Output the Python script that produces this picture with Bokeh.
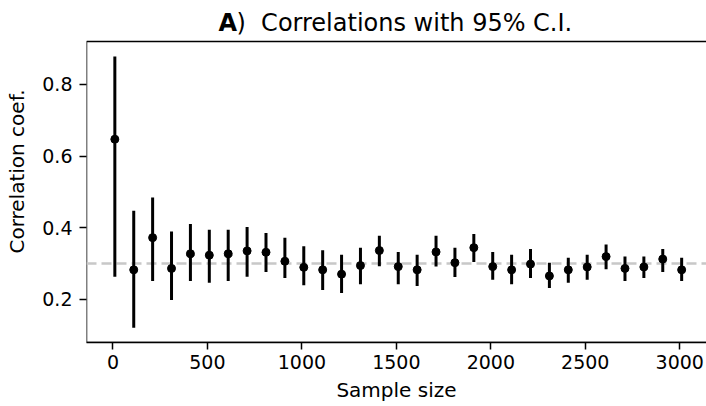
from bokeh.plotting import figure
from bokeh.models import ColumnDataSource, Range1d, Span, Label, BoxAnnotation, FixedTicker
from bokeh.embed import file_html
from bokeh.resources import INLINE

sample_size = [10, 110, 210, 310, 410, 510, 610, 710, 810, 910, 1010, 1110, 1210, 1310, 1410,
               1510, 1610, 1710, 1810, 1910, 2010, 2110, 2210, 2310, 2410, 2510, 2610, 2710,
               2810, 2910, 3010]
corr = [0.647, 0.282, 0.372, 0.286, 0.327, 0.323, 0.327, 0.335, 0.331, 0.306, 0.289, 0.282,
        0.270, 0.294, 0.336, 0.291, 0.282, 0.332, 0.302, 0.344, 0.291, 0.282, 0.298, 0.265,
        0.282, 0.290, 0.319, 0.286, 0.290, 0.312, 0.282]
upper = [0.878, 0.447, 0.484, 0.389, 0.410, 0.394, 0.394, 0.402, 0.385, 0.372, 0.348, 0.337,
         0.324, 0.344, 0.377, 0.332, 0.324, 0.377, 0.344, 0.382, 0.332, 0.324, 0.340, 0.302,
         0.316, 0.324, 0.353, 0.319, 0.319, 0.340, 0.316]
lower = [0.263, 0.120, 0.251, 0.198, 0.251, 0.246, 0.251, 0.263, 0.276, 0.259, 0.239, 0.226,
         0.217, 0.242, 0.292, 0.242, 0.237, 0.291, 0.262, 0.304, 0.254, 0.242, 0.259, 0.231,
         0.246, 0.254, 0.284, 0.251, 0.259, 0.276, 0.251]
true_corr = 0.3
x_ticks = [0, 500, 1000, 1500, 2000, 2500, 3000]
y_ticks = [0.2, 0.4, 0.6, 0.8]

# axes box limits (the box's right side lies beyond the window)
x_lo, x_hi = -140, 3160
y_lo, y_hi = 0.079, 0.92

W, H = 706, 406
LEFT, BOTTOM, BOX_TOP = 86, 64, 41
frame_h = H - BOTTOM
ppu = (frame_h - BOX_TOP) / (y_hi - y_lo)
y_view_hi = y_hi + BOX_TOP / ppu          # frame reaches the top, title sits inside it
x_view_hi = x_lo + (x_hi - x_lo) * (W - LEFT) / 623.5
title_y = y_hi + 19 / ppu                  # title placed above the box

src = ColumnDataSource(dict(n=sample_size, r=corr, lo=lower, hi=upper))

FONT = "DejaVu Sans"
p = figure(width=W, height=H, output_backend="svg", toolbar_location=None,
           x_range=Range1d(x_lo, x_view_hi), y_range=Range1d(y_lo, y_view_hi),
           min_border_left=LEFT, min_border_right=0, min_border_top=0, min_border_bottom=BOTTOM,
           x_axis_label="Sample size", y_axis_label="Correlation coef.")
p.outline_line_color = None
p.grid.visible = False
p.background_fill_color = "white"
p.border_fill_color = "white"

for ax in (p.xaxis[0], p.yaxis[0]):
    ax.axis_line_color = "black"
    ax.axis_line_width = 1.5
    ax.major_tick_line_color = "black"
    ax.major_tick_line_width = 1.5
    ax.major_tick_out = 7
    ax.major_tick_in = 0
    ax.minor_tick_line_color = None
    ax.major_label_text_font = FONT
    ax.major_label_text_font_size = "19px"
    ax.major_label_text_color = "black"
    ax.axis_label_text_font = FONT
    ax.axis_label_text_font_size = "20px"
    ax.axis_label_text_font_style = "normal"
    ax.axis_label_text_color = "black"

p.yaxis[0].axis_line_color = None
p.xaxis[0].ticker = FixedTicker(ticks=x_ticks)
p.yaxis[0].ticker = FixedTicker(ticks=y_ticks)
p.xaxis[0].major_label_standoff = 5
p.xaxis[0].axis_label_standoff = 6
p.yaxis[0].major_label_standoff = 7
p.yaxis[0].axis_label_standoff = 10

# axes box: left and top spines (bottom is the x axis line)
p.add_layout(BoxAnnotation(left=x_lo, right=x_hi, bottom=y_lo, top=y_hi,
                           fill_color=None, fill_alpha=0, line_color="black", line_alpha=1.0,
                           line_width=1.5, level="underlay"))

p.add_layout(Span(location=true_corr, dimension="width", line_color="#c8c8c8",
                  line_width=2.5, line_dash="10 5", level="underlay"))

p.segment(x0="n", y0="lo", x1="n", y1="hi", source=src, line_color="black", line_width=3)
p.scatter(x="n", y="r", source=src, size=8, color="black")

p.add_layout(Label(x=132, y=title_y, x_units="screen", y_units="data", text="A",
                   text_font=FONT, text_font_size="24px", text_font_style="bold",
                   text_color="black", text_baseline="alphabetic"))
p.add_layout(Label(x=150, y=title_y, x_units="screen", y_units="data",
                   text=")\u00a0\u00a0Correlations with 95% C.I.",
                   text_font=FONT, text_font_size="24px", text_color="black",
                   text_baseline="alphabetic"))

open("out.html", "w").write(file_html(p, INLINE))
